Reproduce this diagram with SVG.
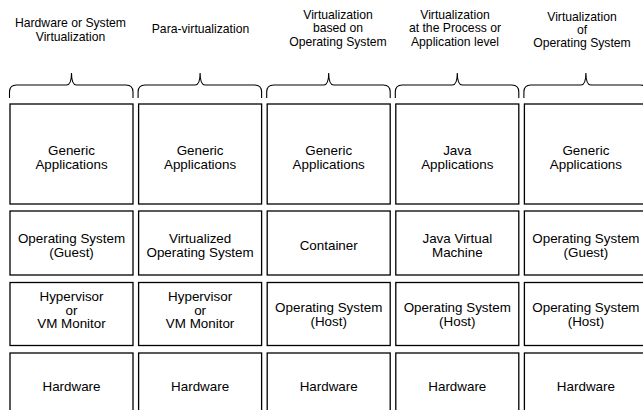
<svg xmlns="http://www.w3.org/2000/svg" width="643" height="410" viewBox="0 0 643 410">
<style>
.box{fill:#fff;stroke:#000;stroke-width:1.3}
.brace{fill:none;stroke:#000;stroke-width:1.1}
text{font-family:"Liberation Sans",Arial,Helvetica,sans-serif;fill:#000;text-anchor:middle}
.h{font-size:12.2px}
.t{font-size:13.4px}
</style>
<rect width="643" height="410" fill="#fff"/>
<g id="headers">
<g id="hdr-1"><text class="h" x="70.5" y="27.3">Hardware or System</text><text class="h" x="70.5" y="40.6">Virtualization</text></g>
<g id="hdr-2"><text class="h" x="200.5" y="33">Para-virtualization</text></g>
<g id="hdr-3"><text class="h" x="338" y="19">Virtualization</text><text class="h" x="338" y="32.3">based on</text><text class="h" x="338" y="45.6">Operating System</text></g>
<g id="hdr-4"><text class="h" x="455" y="19">Virtualization</text><text class="h" x="455" y="32.3">at the Process or</text><text class="h" x="455" y="45.6">Application level</text></g>
<g id="hdr-5"><text class="h" x="582" y="20.6">Virtualization</text><text class="h" x="582" y="33.9">of</text><text class="h" x="582" y="47.2">Operating System</text></g>
</g>
<g id="braces">
<path class="brace" d="M9.5,98 L9.5,92 Q9.5,85 16.5,85 L66.5,85 Q71.5,85 71.5,73 Q71.5,85 76.5,85 L126,85 Q133,85 133,92 L133,98"/>
<path class="brace" d="M138.1,98 L138.1,92 Q138.1,85 145.1,85 L195.1,85 Q200.1,85 200.1,73 Q200.1,85 205.1,85 L254.6,85 Q261.6,85 261.6,92 L261.6,98"/>
<path class="brace" d="M266.7,98 L266.7,92 Q266.7,85 273.7,85 L323.7,85 Q328.7,85 328.7,73 Q328.7,85 333.7,85 L383.2,85 Q390.2,85 390.2,92 L390.2,98"/>
<path class="brace" d="M395.3,98 L395.3,92 Q395.3,85 402.3,85 L452.3,85 Q457.3,85 457.3,73 Q457.3,85 462.3,85 L511.8,85 Q518.8,85 518.8,92 L518.8,98"/>
<path class="brace" d="M523.9,98 L523.9,92 Q523.9,85 530.9,85 L580.9,85 Q585.9,85 585.9,73 Q585.9,85 590.9,85 L640.4,85 Q647.4,85 647.4,92 L647.4,98"/>
</g>
<g id="col1">
<g id="c1-apps"><rect class="box" x="10" y="104" width="123" height="100"/><text class="t" x="71.5" y="155">Generic</text><text class="t" x="71.5" y="169">Applications</text></g>
<g id="c1-os"><rect class="box" x="10" y="211" width="123" height="64"/><text class="t" x="71.5" y="242.5">Operating System</text><text class="t" x="71.5" y="256.5">(Guest)</text></g>
<g id="c1-hyp"><rect class="box" x="10" y="282.5" width="123" height="63"/><text class="t" x="71.5" y="301">Hypervisor</text><text class="t" x="71.5" y="314.5">or</text><text class="t" x="71.5" y="328">VM Monitor</text></g>
<g id="c1-hw"><rect class="box" x="10" y="353" width="123" height="70"/><text class="t" x="71.5" y="391">Hardware</text></g>
</g>
<g id="col2">
<g id="c2-apps"><rect class="box" x="138.6" y="104" width="123" height="100"/><text class="t" x="200.1" y="155">Generic</text><text class="t" x="200.1" y="169">Applications</text></g>
<g id="c2-os"><rect class="box" x="138.6" y="211" width="123" height="64"/><text class="t" x="200.1" y="242.5">Virtualized</text><text class="t" x="200.1" y="256.5">Operating System</text></g>
<g id="c2-hyp"><rect class="box" x="138.6" y="282.5" width="123" height="63"/><text class="t" x="200.1" y="301">Hypervisor</text><text class="t" x="200.1" y="314.5">or</text><text class="t" x="200.1" y="328">VM Monitor</text></g>
<g id="c2-hw"><rect class="box" x="138.6" y="353" width="123" height="70"/><text class="t" x="200.1" y="391">Hardware</text></g>
</g>
<g id="col3">
<g id="c3-apps"><rect class="box" x="267.2" y="104" width="123" height="100"/><text class="t" x="328.7" y="155">Generic</text><text class="t" x="328.7" y="169">Applications</text></g>
<g id="c3-cont"><rect class="box" x="267.2" y="211" width="123" height="64"/><text class="t" x="328.7" y="250">Container</text></g>
<g id="c3-os"><rect class="box" x="267.2" y="282.5" width="123" height="63"/><text class="t" x="328.7" y="312">Operating System</text><text class="t" x="328.7" y="326">(Host)</text></g>
<g id="c3-hw"><rect class="box" x="267.2" y="353" width="123" height="70"/><text class="t" x="328.7" y="391">Hardware</text></g>
</g>
<g id="col4">
<g id="c4-apps"><rect class="box" x="395.8" y="104" width="123" height="100"/><text class="t" x="457.3" y="155">Java</text><text class="t" x="457.3" y="169">Applications</text></g>
<g id="c4-jvm"><rect class="box" x="395.8" y="211" width="123" height="64"/><text class="t" x="457.3" y="242.5">Java Virtual</text><text class="t" x="457.3" y="256.5">Machine</text></g>
<g id="c4-os"><rect class="box" x="395.8" y="282.5" width="123" height="63"/><text class="t" x="457.3" y="312">Operating System</text><text class="t" x="457.3" y="326">(Host)</text></g>
<g id="c4-hw"><rect class="box" x="395.8" y="353" width="123" height="70"/><text class="t" x="457.3" y="391">Hardware</text></g>
</g>
<g id="col5">
<g id="c5-apps"><rect class="box" x="524.4" y="104" width="123" height="100"/><text class="t" x="585.9" y="155">Generic</text><text class="t" x="585.9" y="169">Applications</text></g>
<g id="c5-os"><rect class="box" x="524.4" y="211" width="123" height="64"/><text class="t" x="585.9" y="242.5">Operating System</text><text class="t" x="585.9" y="256.5">(Guest)</text></g>
<g id="c5-host"><rect class="box" x="524.4" y="282.5" width="123" height="63"/><text class="t" x="585.9" y="312">Operating System</text><text class="t" x="585.9" y="326">(Host)</text></g>
<g id="c5-hw"><rect class="box" x="524.4" y="353" width="123" height="70"/><text class="t" x="585.9" y="391">Hardware</text></g>
</g>
</svg>
